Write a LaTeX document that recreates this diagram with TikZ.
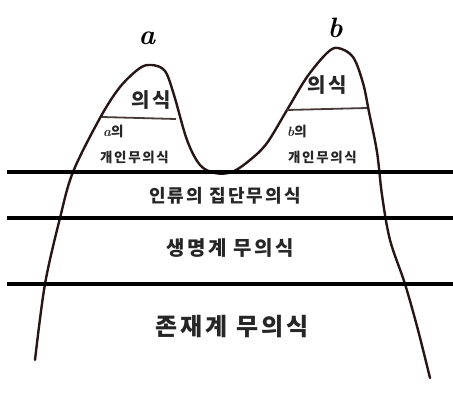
\documentclass[tikz,border=0pt]{standalone}
\usepackage{fontspec}
\newfontfamily\kr{Noto Sans CJK KR}[LetterSpace=12]
\usetikzlibrary{calc}
\definecolor{ink}{RGB}{40,22,22}
\definecolor{pencil}{RGB}{70,60,55}

\begin{document}
\begin{tikzpicture}[x=1pt,y=-1pt,font=\kr,
    level/.style={line width=4.5pt,black},
    layer/.style={inner sep=0pt,text=black!85,font=\kr\bfseries\fontsize{18}{20}\selectfont},
    small/.style={inner sep=0pt,text=black!85,font=\kr\bfseries\fontsize{13.5}{15}\selectfont},
    peak/.style={inner sep=0pt,font=\rmfamily\bfseries\itshape\fontsize{28}{28}\selectfont}]
  \useasboundingbox[fill=white] (0,0) rectangle (453,410);
  % the two peaks, one line from bottom left to bottom right
  \draw[ink,line width=2.4pt,line cap=round] plot[smooth,tension=0.55] coordinates {
    (35,360) (45,284) (60,218) (73,172) (100,118) (120,87) (140,68) (152,65) (165,71)
    (174,95) (187,140) (200,165) (215,173) (232,172) (250,160) (267,143) (287,110)
    (307,77) (327,53) (338,48) (353,57) (363,83) (369,112) (377,152) (382,195)
    (390,240) (405,284) (418,330) (430,378)};
  % levels
  \draw[level] (7,172) -- (453,172);
  \draw[level] (7,218) -- (453,218);
  \draw[level] (7,284) -- (453,284);
  % consciousness / personal unconscious
  \draw[pencil,line width=1.8pt] (102,117) -- (176,119);
  \draw[pencil,line width=1.8pt] (287,110) -- (367,108);
  \node[peak] (na) at (147,38) {a};
  \node[peak] (nb) at (335,28) {b};
  \node[layer,font=\kr\bfseries\fontsize{20}{22}\selectfont] (ca) at (151,100) {의식};
  \node[layer,font=\kr\bfseries\fontsize{20}{22}\selectfont] (cb) at (327,85) {의식};
  \node[small,anchor=west] (pa) at (103,131) {{\rmfamily\itshape a}의};
  \node[small,anchor=west] (pat) at (100,157) {개인무의식};
  \node[small,anchor=west] (pb) at (287,131) {{\rmfamily\itshape b}의};
  \node[small,anchor=west] (pbt) at (288,157) {개인무의식};
  \node[layer] (col) at (225,196) {인류의 집단무의식};
  \node[layer,font=\kr\bfseries\fontsize{20}{22}\selectfont] (life) at (230,248) {생명계 무의식};
  \node[layer,font=\kr\bfseries\fontsize{24}{26}\selectfont] (being) at (232,327) {존재계 무의식};
\end{tikzpicture}
\end{document}
